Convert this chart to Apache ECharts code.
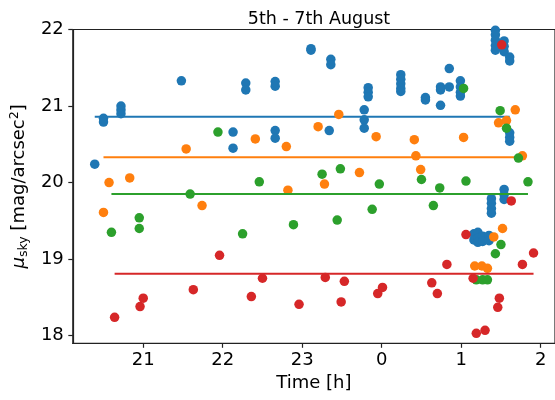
<!DOCTYPE html>
<html>
<head>
<meta charset="utf-8">
<script src="https://cdn.jsdelivr.net/npm/echarts@6/dist/echarts.min.js"></script>
<style>
html,body{margin:0;padding:0;background:#fff;}
#chart{width:555px;height:400px;}
</style>
</head>
<body>
<div id="chart"></div>
<script>
// Time in hours (continuous; values above 24 are after midnight)
const blueTime = [20.39,20.50,20.50,20.72,20.72,20.72,21.48,22.13,22.13,22.29,22.29,22.66,22.66,22.66,22.66,23.11,23.11,23.36,23.36,23.34,23.78,23.78,23.78,23.83,23.83,23.83,24.24,24.24,24.24,24.24,24.24,24.55,24.55,24.74,24.74,24.74,24.85,24.85,24.99,24.99,24.99,24.99,25.43,25.43,25.43,25.43,25.43,25.54,25.54,25.54,25.61,25.61,25.61,25.61,25.61,25.38,25.38,25.38,25.38,25.54,25.54,25.54,25.16,25.16,25.21,25.21,25.21,25.27,25.27,25.35,25.35];
const blueMag  = [20.24,20.84,20.79,21.00,20.95,20.90,21.33,20.66,20.45,21.30,21.21,21.32,21.26,20.68,20.58,21.75,21.73,21.61,21.54,20.68,20.95,20.82,20.71,21.24,21.18,21.12,21.41,21.35,21.29,21.23,21.19,21.11,21.08,21.25,21.21,21.01,21.49,21.25,21.33,21.25,21.18,21.13,21.99,21.93,21.86,21.79,21.73,21.85,21.78,21.71,21.64,21.59,20.65,20.59,20.54,19.79,19.73,19.66,19.60,19.91,19.84,19.78,19.33,19.25,19.35,19.27,19.22,19.30,19.23,19.31,19.24];

const orangeTime = [20.50,20.57,20.83,21.54,21.74,22.41,22.80,22.82,23.20,23.28,23.46,23.72,23.93,24.41,24.43,24.49,25.03,25.17,25.26,25.33,25.41,25.52,25.47,25.57,25.68,25.77];
const orangeMag  = [19.61,20.00,20.06,20.44,19.70,20.57,20.47,19.90,20.73,19.98,20.89,20.13,20.60,20.56,20.35,20.17,20.59,18.91,18.91,18.88,19.29,19.40,20.78,20.81,20.95,20.35];

const greenTime = [20.60,20.95,20.95,21.59,21.94,22.25,22.46,22.89,23.25,23.44,23.48,23.88,23.97,24.50,24.65,24.73,25.03,25.06,25.19,25.27,25.33,25.43,25.50,25.49,25.57,25.72,25.84];
const greenMag  = [19.35,19.54,19.40,19.85,20.66,19.33,20.01,19.45,20.11,19.51,20.18,19.65,19.98,20.04,19.70,19.93,21.23,20.02,18.73,18.73,18.73,19.07,19.19,20.94,20.71,20.32,20.01];

const redTime = [20.64,20.96,21.00,21.63,21.96,22.36,22.50,22.96,23.29,23.49,23.53,23.95,24.01,24.63,24.70,24.82,25.06,25.15,25.19,25.30,25.46,25.48,25.51,25.63,25.77,25.91];
const redMag  = [18.24,18.38,18.49,18.60,19.05,18.51,18.75,18.41,18.76,18.44,18.71,18.55,18.63,18.69,18.55,18.93,19.32,18.75,18.03,18.07,18.37,18.49,21.80,19.76,18.93,19.08];

// Horizontal mean levels
const meanLevels = [20.86, 20.33, 19.85, 18.81];
const seriesColors = ['#1f77b4', '#ff7f0e', '#2ca02c', '#d62728'];

const xTicks = [21, 22, 23, 24, 25, 26];
const yTicks = [18, 19, 20, 21, 22];

const sets = [
  [blueTime, blueMag],
  [orangeTime, orangeMag],
  [greenTime, greenMag],
  [redTime, redMag]
];

const FONT = 'DejaVu Sans';
const series = [];
sets.forEach(function (s, i) {
  const t = s[0], m = s[1];
  series.push({
    type: 'scatter',
    data: t.map(function (v, k) { return [v, m[k]]; }),
    symbolSize: 9.5,
    itemStyle: { color: seriesColors[i], opacity: 1 },
    clip: true,
    z: 2 + i * 2,
    silent: true
  });
  const x0 = Math.min.apply(null, t), x1 = Math.max.apply(null, t);
  series.push({
    type: 'line',
    data: [[x0, meanLevels[i]], [x1, meanLevels[i]]],
    showSymbol: false,
    symbol: 'none',
    lineStyle: { color: seriesColors[i], width: 2 },
    z: 3 + i * 2,
    silent: true
  });
});

const chart = echarts.init(document.getElementById('chart'), null, { renderer: 'canvas' });
chart.setOption({
  animation: false,
  backgroundColor: '#fff',
  title: {
    text: '5th - 7th August',
    left: 314, top: 5, textAlign: 'center',
    textStyle: { fontFamily: FONT, fontSize: 17.5, fontWeight: 'normal', color: '#000' }
  },
  grid: {
    left: 72, top: 29.5, width: 484, height: 313.8,
    show: true, borderColor: '#222', borderWidth: 1.2, backgroundColor: 'transparent'
  },
  xAxis: {
    type: 'value',
    min: 20.114, max: 26.18,
    name: 'Time [h]',
    nameLocation: 'middle',
    nameGap: 25,
    nameTextStyle: { fontFamily: FONT, fontSize: 18, color: '#000', verticalAlign: 'top' },
    splitLine: { show: false },
    axisLine: { show: true, onZero: false, lineStyle: { color: '#222', width: 1.2 } },
    axisTick: { show: true, inside: false, length: 4.5, customValues: xTicks, lineStyle: { color: '#222', width: 1.2 } },
    axisLabel: {
      customValues: xTicks,
      margin: 8,
      fontFamily: FONT, fontSize: 18, color: '#000',
      formatter: function (v) { return String(Math.round(v) % 24); }
    }
  },
  yAxis: {
    type: 'value',
    min: 17.9, max: 22,
    name: '{mu|μ}{sub|sky} [mag/arcsec{sup|2}]',
    nameLocation: 'middle',
    nameGap: 41,
    nameRotate: 90,
    nameTextStyle: {
      fontFamily: FONT, fontSize: 18, color: '#000',
      rich: {
        mu: { fontFamily: FONT, fontSize: 18, fontStyle: 'italic', color: '#000' },
        sub: { fontFamily: FONT, fontSize: 12.5, color: '#000', padding: [9, 0, 0, 0] },
        sup: { fontFamily: FONT, fontSize: 12.5, color: '#000', padding: [0, 0, 9, 0] }
      }
    },
    splitLine: { show: false },
    axisLine: { show: true, onZero: false, lineStyle: { color: '#222', width: 1.2 } },
    axisTick: { show: true, inside: false, length: 4.5, customValues: yTicks, lineStyle: { color: '#222', width: 1.2 } },
    axisLabel: {
      customValues: yTicks,
      margin: 9,
      fontFamily: FONT, fontSize: 18, color: '#000',
      formatter: function (v) { return String(Math.round(v)); }
    }
  },
  series: series
});
</script>
</body>
</html>
